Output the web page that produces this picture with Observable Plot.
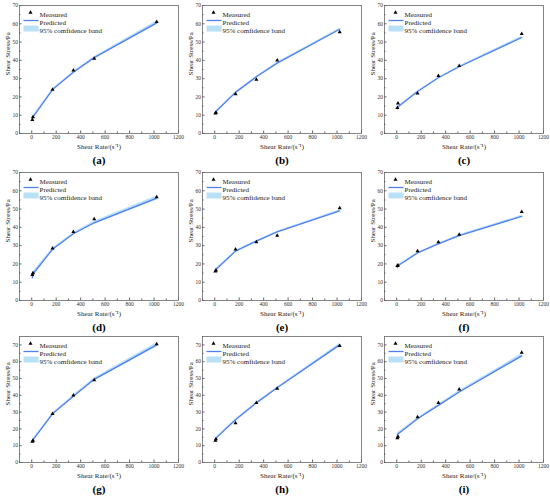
<!DOCTYPE html>
<html><head><meta charset="utf-8">
<script src="https://cdn.jsdelivr.net/npm/d3@7"></script>
<script src="https://cdn.jsdelivr.net/npm/@observablehq/plot@0.6"></script>
<style>
body{margin:0;background:#fff}
#chart{position:relative;width:550px;height:501px;font-family:"Liberation Serif","Times New Roman",serif}
.panel{position:absolute}
</style>
</head><body><div id="chart"></div>
<script>
const shearRates = [5.1, 10.2, 170.3, 340.6, 510.9, 1021.8];
const panelLabels = ["(a)","(b)","(c)","(d)","(e)","(f)","(g)","(h)","(i)"];
const legendLabels = ["Measured","Predicted","95% comfidence band"];
const xLabel = "Shear Rate/(s\u207B\u00B9)";
const yLabel = "Shear Stress/Pa";
const xTicks = [0,200,400,600,800,1000,1200];
const xMinor = [-100,100,300,500,700,900,1100];
const yTicks = [0,10,20,30,40,50,60,70];
const yMinor = [5,15,25,35,45,55,65];

const measuredA = [7.5, 9, 24, 34.5, 41, 61];
const measuredB = [11, 11.5, 21.5, 29.5, 40, 55.5];
const measuredC = [14, 16.5, 22, 31.5, 37, 54.5];
const measuredD = [14, 15, 28.5, 37.5, 44.5, 56.5];
const measuredE = [16, 16.5, 28, 32, 35.5, 50.5];
const measuredF = [19, 19.2, 27, 32, 36, 48.5];
const measuredG = [12.5, 13, 29, 40, 49, 70.5];
const measuredH = [13, 14, 23.5, 35.5, 44, 69.5];
const measuredI = [14.5, 15.5, 27, 35.5, 43.5, 65.5];

const predictedA = [8, 9, 24, 33.5, 41.5, 60.5];
const predictedB = [11, 12, 22.5, 31, 38.5, 57];
const predictedC = [13.5, 14.5, 23, 30.5, 36.5, 52.5];
const predictedD = [12.5, 14.5, 28, 36.5, 42.5, 56];
const predictedE = [16.5, 17, 27, 32.5, 37.5, 49];
const predictedF = [18, 19, 26, 31, 35.5, 46];
const predictedG = [12.5, 13.5, 29, 39.5, 49.5, 70];
const predictedH = [13.5, 14.5, 25.5, 35.5, 44.5, 70];
const predictedI = [16.5, 17, 26, 34, 42, 63.5];

const bandA = [0.8, 0.7, 0.4, 0.4, 0.5, 1.0];
const bandB = [0.5, 0.5, 0.3, 0.3, 0.4, 0.6];
const bandC = [0.6, 0.5, 0.3, 0.3, 0.4, 0.7];
const bandD = [1.5, 1.2, 0.6, 0.6, 0.8, 1.2];
const bandE = [0.5, 0.5, 0.3, 0.3, 0.4, 0.6];
const bandF = [0.5, 0.5, 0.3, 0.3, 0.4, 0.6];
const bandG = [0.8, 0.7, 0.5, 0.6, 0.8, 1.3];
const bandH = [0.6, 0.6, 0.4, 0.4, 0.5, 0.8];
const bandI = [1.0, 0.9, 0.6, 0.6, 0.7, 1.2];

const measured = [measuredA,measuredB,measuredC,measuredD,measuredE,measuredF,measuredG,measuredH,measuredI];
const predicted = [predictedA,predictedB,predictedC,predictedD,predictedE,predictedF,predictedG,predictedH,predictedI];
const bands = [bandA,bandB,bandC,bandD,bandE,bandF,bandG,bandH,bandI];

const lineColor = "#4f7ff5";
const bandColor = "#b9e0f5";
const lineSymbol = {draw(ctx){ ctx.moveTo(-7.5,0); ctx.lineTo(7.5,0); }};
const rectSymbol = {draw(ctx){ ctx.rect(-7.5,-3,15,6); }};

const colLeft = [0,183,365];
const rowTop = [0,168,333];
const container = document.getElementById("chart");

for (let i = 0; i < 9; i++) {
  const row = Math.floor(i/3), col = i%3;
  const yMax = row === 2 ? 75 : 70;
  const mt = [5,4,3][row], mb = [35,36,39][row];
  const data = shearRates.map((x,k) => ({x, m: measured[i][k], p: predicted[i][k],
    lo: predicted[i][k] - bands[i][k], hi: predicted[i][k] + bands[i][k]}));
  const legendText = (k) => Plot.text([legendLabels[k]], {text: d => d, frameAnchor: "top-left", dx: 20, dy: 7 + 8*k, textAnchor: "start", fontSize: 7, fill: "#222"});
  const chart = Plot.plot({
    width: 183, height: 168,
    marginLeft: 19, marginRight: 5, marginTop: mt, marginBottom: mb,
    style: {fontFamily: "Liberation Serif, Times New Roman, serif", fontSize: "5.5px", background: "transparent", color: "#333", overflow: "visible"},
    x: {domain: [-100,1200], label: null},
    y: {domain: [0,yMax], label: null},
    marks: [
      Plot.areaY(data, {x: "x", y1: "lo", y2: "hi", fill: bandColor}),
      Plot.line(data, {x: "x", y: "p", stroke: lineColor, strokeWidth: 1.3}),
      Plot.dot(data, {x: "x", y: "m", symbol: "triangle", fill: "#000", r: 1.5}),
      Plot.frame({stroke: "#666", strokeWidth: 0.8}),
      Plot.axisX({ticks: xTicks, tickFormat: d => String(d), tickSize: -2.5, tickPadding: 4.5, label: null, stroke: "#666"}),
      Plot.axisX({ticks: xMinor, tickSize: -1.5, text: null, label: null, stroke: "#666"}),
      Plot.axisY({ticks: yTicks, tickFormat: d => String(d), tickSize: -2.5, tickPadding: 4, label: null, stroke: "#666"}),
      Plot.axisY({ticks: yMinor, tickSize: -1.5, text: null, label: null, stroke: "#666"}),
      // legend
      Plot.dot([legendLabels[0]], {frameAnchor: "top-left", dx: 11, dy: 7, symbol: "triangle", fill: "#000", r: 1.5}),
      Plot.dot([legendLabels[1]], {frameAnchor: "top-left", dx: 11.5, dy: 15, symbol: lineSymbol, stroke: lineColor, fill: "none", strokeWidth: 1.3}),
      Plot.dot([legendLabels[2]], {frameAnchor: "top-left", dx: 11.5, dy: 23, symbol: rectSymbol, fill: bandColor, stroke: "none"}),
      legendText(0), legendText(1), legendText(2),
      // axis titles
      Plot.text([xLabel], {text: d => d, frameAnchor: "bottom", dy: 15, fontSize: 7, fill: "#222"}),
      Plot.text([yLabel], {text: d => d, frameAnchor: "left", dx: -12, dy: 6, rotate: -90, fontSize: 7, fill: "#222"}),
      Plot.text([panelLabels[i]], {text: d => d, frameAnchor: "bottom", dy: 30, fontSize: 11, fontWeight: "bold", fill: "#000"})
    ]
  });
  chart.classList.add("panel");
  chart.style.left = colLeft[col] + "px";
  chart.style.top = rowTop[row] + "px";
  container.appendChild(chart);
}
</script>
</body></html>
